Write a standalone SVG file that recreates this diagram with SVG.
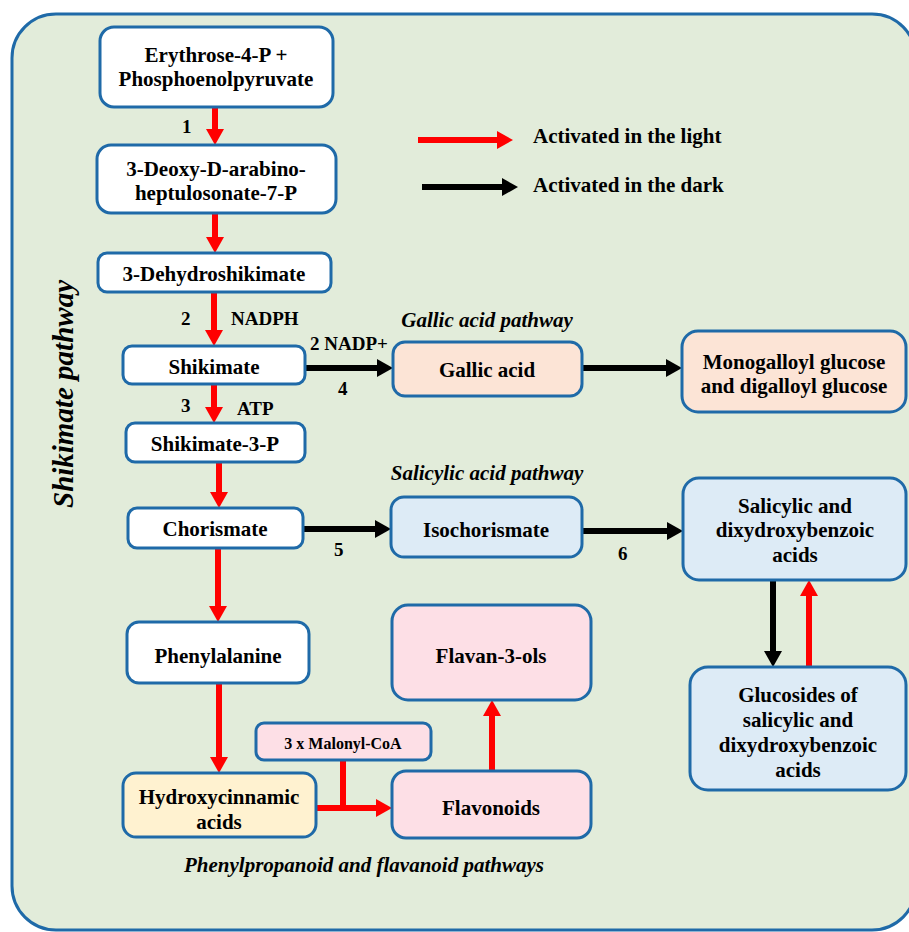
<svg xmlns="http://www.w3.org/2000/svg" width="909" height="932" viewBox="0 0 909 932">
<defs>
<style>
.bg{fill:#e2ecda;stroke:#1f6aa8;stroke-width:3}
.n{stroke:#1f6aa8;stroke-width:3}
.w{fill:#ffffff}.p{fill:#fce4d6}.b{fill:#ddebf6}.k{fill:#fddfe6}.y{fill:#fff2d0}
.t{font-family:'Liberation Serif','Times New Roman',serif;font-weight:bold;font-size:21px;fill:#000;text-anchor:middle}
.s{font-family:'Liberation Serif','Times New Roman',serif;font-weight:bold;font-size:19px;fill:#000}
.i{font-family:'Liberation Serif','Times New Roman',serif;font-weight:bold;font-style:italic;font-size:21px;fill:#000;text-anchor:middle}
.r{stroke:#ff0000;stroke-width:6;fill:none}
.d{stroke:#000000;stroke-width:6;fill:none}
</style>
<marker id="rh" markerUnits="userSpaceOnUse" markerWidth="16" markerHeight="18" refX="0" refY="9" orient="auto"><path d="M0,0 L16,9 L0,18 Z" fill="#ff0000"/></marker>
<marker id="dh" markerUnits="userSpaceOnUse" markerWidth="16" markerHeight="18" refX="0" refY="9" orient="auto"><path d="M0,0 L16,9 L0,18 Z" fill="#000000"/></marker>
</defs>
<rect class="bg" x="12" y="14" width="904" height="916" rx="44"/>

<g id="connectors">
<path class="r" d="M215,107 V129" marker-end="url(#rh)"/>
<path class="r" d="M215,213 V237" marker-end="url(#rh)"/>
<path class="r" d="M214,292 V330" marker-end="url(#rh)"/>
<path class="r" d="M214,384 V407" marker-end="url(#rh)"/>
<path class="r" d="M219,462 V492" marker-end="url(#rh)"/>
<path class="r" d="M218,548 V606" marker-end="url(#rh)"/>
<path class="r" d="M219,683 V757" marker-end="url(#rh)"/>
<path class="r" d="M316,808 H376" marker-end="url(#rh)"/>
<path class="r" d="M343,760 V808"/>
<path class="r" d="M492,771 V716" marker-end="url(#rh)"/>
<path class="r" d="M809,667 V596" marker-end="url(#rh)"/>
<path class="d" d="M773,580 V651" marker-end="url(#dh)"/>
<path class="d" d="M305,368 H377" marker-end="url(#dh)"/>
<path class="d" d="M582,368 H666" marker-end="url(#dh)"/>
<path class="d" d="M303,529 H375" marker-end="url(#dh)"/>
<path class="d" d="M582,531 H667" marker-end="url(#dh)"/>
<path class="r" d="M418,140 H497" marker-end="url(#rh)"/>
<path class="d" d="M422,187 H502" marker-end="url(#dh)"/>
</g>

<g id="labels">
<text class="s" x="182" y="133">1</text>
<text class="s" x="181" y="325">2</text>
<text class="s" x="231" y="325">NADPH</text>
<text class="s" x="181" y="412">3</text>
<text class="s" x="237" y="415">ATP</text>
<text class="s" x="310" y="350">2 NADP+</text>
<text class="s" x="338" y="395">4</text>
<text class="s" x="334" y="556">5</text>
<text class="s" x="618" y="560">6</text>
<text class="t" x="533" y="143" style="text-anchor:start">Activated  in the light</text>
<text class="t" x="533" y="192" style="text-anchor:start">Activated  in the dark</text>
<text class="i" x="487" y="327">Gallic acid pathway</text>
<text class="i" x="487" y="480">Salicylic acid pathway</text>
<text class="i" x="364" y="872">Phenylpropanoid and flavanoid pathways</text>
<text class="i" x="0" y="0" style="font-size:29px" transform="translate(73,394) rotate(-90)">Shikimate pathway</text>
</g>

<g id="erythrose"><rect class="n w" x="100" y="27" width="233" height="80" rx="14"/>
<text class="t" x="216" y="62">Erythrose-4-P  +</text><text class="t" x="216" y="86">Phosphoenolpyruvate</text></g>
<g id="dahp"><rect class="n w" x="97" y="145" width="239" height="68" rx="14"/>
<text class="t" x="216" y="176">3-Deoxy-D-arabino-</text><text class="t" x="216" y="200">heptulosonate-7-P</text></g>
<g id="dehydroshikimate"><rect class="n w" x="98" y="253" width="233" height="39" rx="9"/>
<text class="t" x="214" y="281">3-Dehydroshikimate</text></g>
<g id="shikimate"><rect class="n w" x="123" y="346" width="182" height="38" rx="9"/>
<text class="t" x="214" y="374">Shikimate</text></g>
<g id="shikimate3p"><rect class="n w" x="126" y="423" width="179" height="39" rx="9"/>
<text class="t" x="215" y="451">Shikimate-3-P</text></g>
<g id="chorismate"><rect class="n w" x="128" y="508" width="175" height="40" rx="9"/>
<text class="t" x="215" y="536">Chorismate</text></g>
<g id="phenylalanine"><rect class="n w" x="127" y="622" width="182" height="61" rx="12"/>
<text class="t" x="218" y="663">Phenylalanine</text></g>
<g id="hydroxycinnamic"><rect class="n y" x="123" y="773" width="193" height="64" rx="13"/>
<text class="t" x="219" y="804">Hydroxycinnamic</text><text class="t" x="219" y="829">acids</text></g>
<g id="malonyl"><rect class="n k" x="256" y="723" width="175" height="37" rx="8"/>
<text class="t" x="343" y="749" style="font-size:16px">3 x Malonyl-CoA</text></g>
<g id="flavonoids"><rect class="n k" x="392" y="771" width="199" height="67" rx="14"/>
<text class="t" x="491" y="815">Flavonoids</text></g>
<g id="flavan"><rect class="n k" x="392" y="605" width="199" height="95" rx="16"/>
<text class="t" x="491" y="663">Flavan-3-ols</text></g>
<g id="gallic"><rect class="n p" x="393" y="342" width="189" height="54" rx="12"/>
<text class="t" x="487" y="377">Gallic acid</text></g>
<g id="monogalloyl"><rect class="n p" x="682" y="331" width="224" height="81" rx="16"/>
<text class="t" x="794" y="369">Monogalloyl glucose</text><text class="t" x="794" y="393">and digalloyl glucose</text></g>
<g id="isochorismate"><rect class="n b" x="391" y="497" width="191" height="60" rx="13"/>
<text class="t" x="486" y="537">Isochorismate</text></g>
<g id="salicylic"><rect class="n b" x="683" y="478" width="223" height="102" rx="16"/>
<text class="t" x="795" y="513">Salicylic  and</text><text class="t" x="795" y="537">dixydroxybenzoic</text><text class="t" x="795" y="562">acids</text></g>
<g id="glucosides"><rect class="n b" x="690" y="667" width="216" height="123" rx="18"/>
<text class="t" x="798" y="702">Glucosides of</text><text class="t" x="798" y="727">salicylic  and</text><text class="t" x="798" y="752">dixydroxybenzoic</text><text class="t" x="798" y="777">acids</text></g>
</svg>
